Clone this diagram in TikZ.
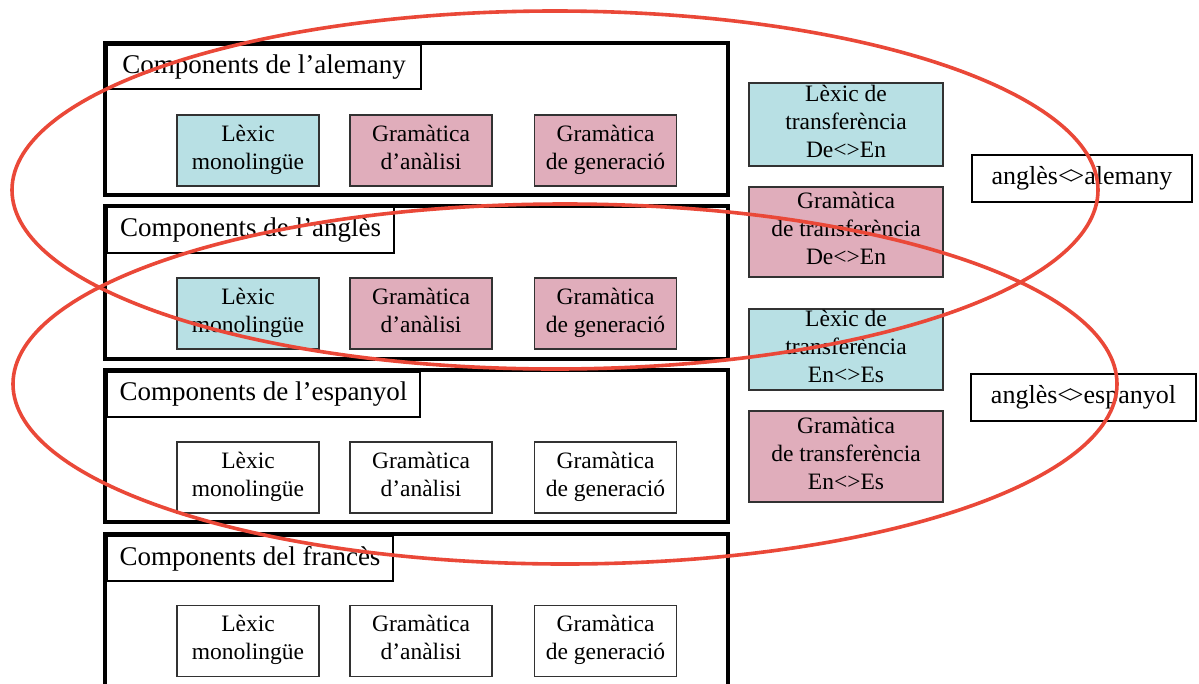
\documentclass[tikz,border=0pt]{standalone}
\usepackage{fontspec}
\setmainfont{Liberation Serif}
\usetikzlibrary{shapes.geometric}
\definecolor{lexfill}{RGB}{184,224,228}
\definecolor{gramfill}{RGB}{224,173,187}
\definecolor{boxline}{RGB}{50,50,50}
\definecolor{loopred}{RGB}{234,72,56}
\newcommand{\dia}{<\kern-0.12em>}
\begin{document}
\begin{tikzpicture}[x=1pt,y=-1pt,
  langframe/.style={draw=black, line width=3.5pt, inner sep=0pt},
  ttl/.style={draw=black, line width=1.1pt, fill=white, inner sep=0pt,
    font=\fontsize{27}{30}\selectfont},
  comp/.style={draw=boxline, line width=1.2pt, inner sep=0pt, align=center,
    font=\fontsize{23.5}{28}\selectfont,
    execute at begin node={\rule{0pt}{28pt}},
    execute at end node={\rule[-7pt]{0pt}{7pt}}},
  lex/.style={comp, fill=lexfill},
  gram/.style={comp, fill=gramfill},
  plain/.style={comp, fill=white},
  rbox/.style={comp, minimum width=194pt, font=\fontsize{23.5}{27.5}\selectfont},
  pairlbl/.style={draw=black, line width=1.1pt, fill=white, inner sep=0pt,
    font=\fontsize{26}{30}\selectfont},
  loop/.style={ellipse, draw=loopred, line width=3.6pt, inner sep=0pt}
]
\useasboundingbox[fill=white] (0,0) rectangle (1199,683);

% language frames
\node[langframe, minimum width=623pt, minimum height=152pt] (fde) at (416.5,119) {};
\node[langframe, minimum width=623pt, minimum height=153pt] (fen) at (416.5,282.5) {};
\node[langframe, minimum width=623pt, minimum height=152pt] (fes) at (416.5,446) {};
\node[langframe, minimum width=623pt, minimum height=156pt] (ffr) at (416.5,612) {};

% frame titles
\node[ttl, minimum width=314pt, minimum height=44pt] (tde) at (264,67) {Components de l’alemany};
\node[ttl, minimum width=287pt, minimum height=46pt] (ten) at (250.5,230) {Components de l’anglès};
\node[ttl, minimum width=313pt, minimum height=45pt] (tes) at (263.5,394.5) {Components de l’espanyol};
\node[ttl, minimum width=286pt, minimum height=45pt] (tfr) at (250,558.5) {Components del francès};

% monolingual components
\tikzset{cw/.style={minimum width=142pt, minimum height=71pt}}
\node[lex, cw]  (lde) at (248,150.5)   {Lèxic\\monolingüe};
\node[gram, cw] (ade) at (421,150.5)   {Gramàtica\\d’anàlisi};
\node[gram, cw] (gde) at (605.5,150.5) {Gramàtica\\de generació};

\node[lex, cw]  (len) at (248,313.5)   {Lèxic\\monolingüe};
\node[gram, cw] (aen) at (421,313.5)   {Gramàtica\\d’anàlisi};
\node[gram, cw] (gen) at (605.5,313.5) {Gramàtica\\de generació};

\node[plain, cw] (les) at (248,477.5)   {Lèxic\\monolingüe};
\node[plain, cw] (aes) at (421,477.5)   {Gramàtica\\d’anàlisi};
\node[plain, cw] (ges) at (605.5,477.5) {Gramàtica\\de generació};

\node[plain, cw] (lfr) at (248,641)   {Lèxic\\monolingüe};
\node[plain, cw] (afr) at (421,641)   {Gramàtica\\d’anàlisi};
\node[plain, cw] (gfr) at (605.5,641) {Gramàtica\\de generació};

% transfer components
\node[rbox, lex, minimum height=83pt]  (tlde) at (846,124.5) {Lèxic de\\transferència\\De<>En};
\node[rbox, gram, minimum height=90pt] (tgde) at (846,232)   {Gramàtica\\de transferència\\De<>En};
\node[rbox, lex, minimum height=81pt]  (tles) at (846,349.5) {Lèxic de\\transferència\\En<>Es};
\node[rbox, gram, minimum height=91pt] (tges) at (846,456.5) {Gramàtica\\de transferència\\En<>Es};

% language pair labels
\node[pairlbl, minimum width=220pt, minimum height=47pt] (pde) at (1082,178.5) {anglès\dia alemany};
\node[pairlbl, minimum width=225pt, minimum height=47pt] (pes) at (1083.5,397.5) {anglès\dia espanyol};

% pair groupings
\node[loop, minimum width=1086pt, minimum height=358pt] (rde) at (555,190) {};
\node[loop, minimum width=1104pt, minimum height=360pt] (res) at (565,384) {};
\end{tikzpicture}
\end{document}
